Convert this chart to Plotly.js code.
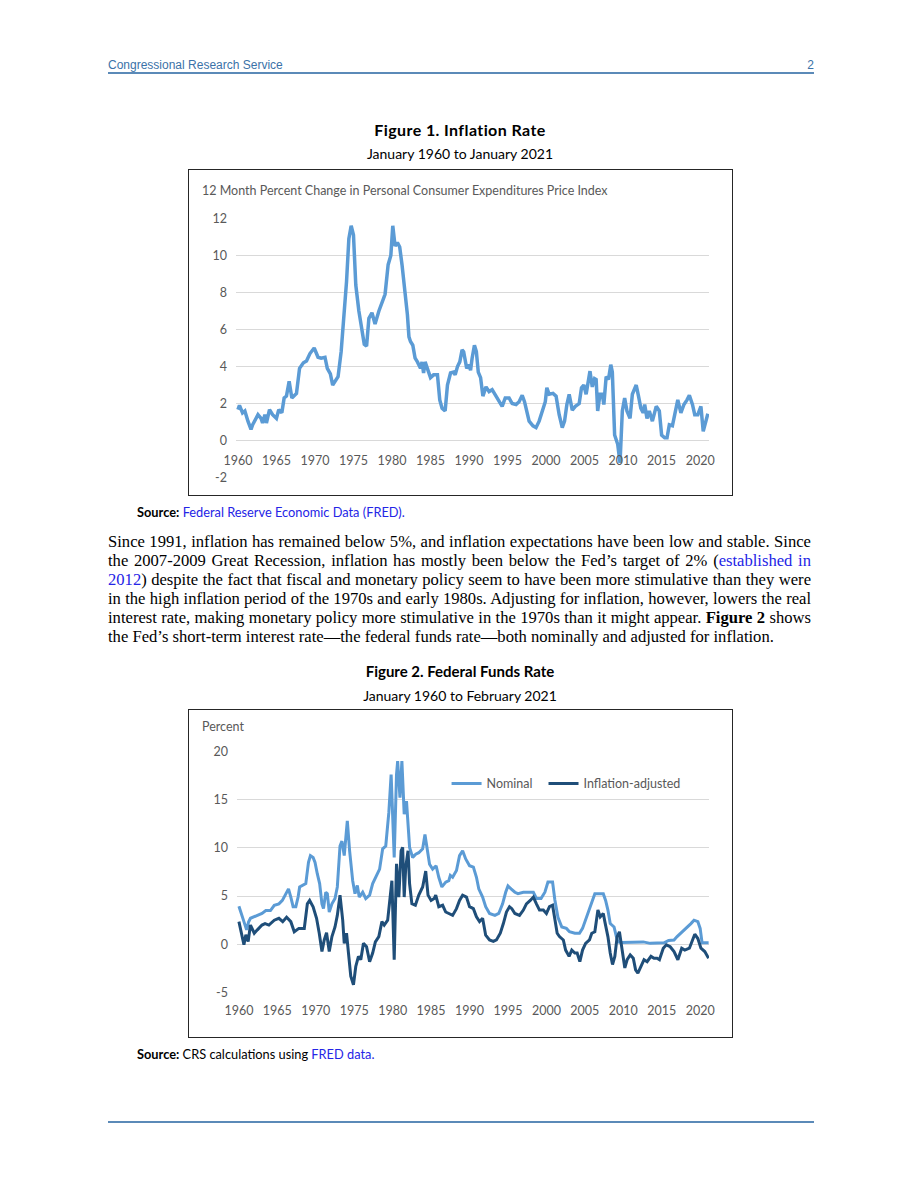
<!DOCTYPE html>
<html>
<head>
<meta charset="utf-8">
<script src="https://cdn.plot.ly/plotly-3.0.1.min.js"></script>
<style>
  html, body { margin:0; padding:0; background:#fff; }
  body { width:920px; height:1191px; position:relative; overflow:hidden; }
  .abs { position:absolute; }
  .hdr { font-family:"Liberation Sans", Arial, sans-serif; font-size:12px; color:#3b72a8; line-height:16px; }
  .rule { background:#5b8ab8; height:2px; left:108px; width:706px; }
  .ftitle { left:0; width:920px; text-align:center; font-family:Lato, sans-serif; font-weight:bold; font-size:15px; line-height:18px; color:#000; }
  .fsub { left:0; width:920px; text-align:center; font-family:Lato, sans-serif; font-size:14px; line-height:16px; color:#000; }
  .box { border:1px solid #262626; box-sizing:border-box; background:#fff; }
  .src { left:137px; font-family:Lato, sans-serif; font-size:12.8px; line-height:15px; color:#000; }
  .src b { font-weight:bold; }
  .lnk { color:#2424e6; }
  .para { left:108px; width:703px; font-family:"Liberation Serif", "Times New Roman", serif; font-size:16.6px; line-height:19px; color:#000; }
  .para div { white-space:nowrap; text-align:justify; text-align-last:justify; }
  .para div.last { text-align-last:left; }
</style>
</head>
<body>
<div class="abs hdr" style="left:108px; top:57px;">Congressional Research Service</div>
<div class="abs hdr" style="right:106px; top:57px;">2</div>
<div class="abs rule" style="top:72px;"></div>

<div class="abs ftitle" style="top:121px; font-size:16px; letter-spacing:0.4px;">Figure 1. Inflation Rate</div>
<div class="abs fsub" style="top:146px;">January 1960 to January 2021</div>
<div class="abs box" style="left:188px; top:169px; width:545px; height:327px;"><div id="chart1"></div></div>
<div class="abs src" style="top:505px;"><b>Source:</b> <span class="lnk">Federal Reserve Economic Data (FRED).</span></div>

<div class="abs para" style="top:532px;">
  <div>Since 1991, inflation has remained below 5%, and inflation expectations have been low and stable. Since</div>
  <div>the 2007-2009 Great Recession, inflation has mostly been below the Fed’s target of 2% (<span class="lnk">established in</span></div>
  <div><span class="lnk">2012</span>) despite the fact that fiscal and monetary policy seem to have been more stimulative than they were</div>
  <div>in the high inflation period of the 1970s and early 1980s. Adjusting for inflation, however, lowers the real</div>
  <div>interest rate, making monetary policy more stimulative in the 1970s than it might appear. <b>Figure 2</b> shows</div>
  <div class="last">the Fed’s short-term interest rate—the federal funds rate—both nominally and adjusted for inflation.</div>
</div>

<div class="abs ftitle" style="top:662px;">Figure 2. Federal Funds Rate</div>
<div class="abs fsub" style="top:688px;">January 1960 to February 2021</div>
<div class="abs box" style="left:188px; top:709px; width:545px; height:329px;"><div id="chart2"></div></div>
<div class="abs src" style="top:1047px;"><b>Source:</b> CRS calculations using <span class="lnk">FRED data.</span></div>

<div class="abs rule" style="top:1121px; height:1.5px;"></div>

<script>
// ---------- Figure 1: PCE price index, 12-month % change ----------
const pceYears = [1960.0,1960.2,1960.6,1960.9,1961.3,1961.7,1961.9,1962.2,1962.6,1963.0,1963.2,1963.5,1963.7,1964.1,1964.5,1965.0,1965.3,1965.7,1966.0,1966.3,1966.65,1967.0,1967.6,1968.0,1968.5,1968.9,1969.35,1969.9,1970.4,1970.8,1971.3,1971.6,1972.0,1972.3,1972.7,1973.0,1973.4,1973.7,1974.1,1974.4,1974.7,1975.0,1975.3,1975.7,1976.1,1976.4,1976.7,1977.0,1977.4,1977.8,1978.3,1978.7,1979.1,1979.5,1979.85,1980.1,1980.4,1980.7,1981.0,1981.3,1981.7,1982.0,1982.2,1982.4,1982.7,1983.0,1983.3,1983.7,1983.9,1984.1,1984.3,1984.7,1985.0,1985.4,1985.9,1986.2,1986.5,1986.9,1987.2,1987.6,1988.0,1988.2,1988.5,1988.8,1989.1,1989.3,1989.7,1990.0,1990.2,1990.4,1990.7,1990.95,1991.2,1991.5,1991.8,1992.2,1992.6,1993.0,1993.5,1993.9,1994.3,1994.7,1995.2,1995.6,1996.1,1996.5,1996.9,1997.2,1997.6,1997.8,1998.3,1998.7,1999.1,1999.6,1999.9,2000.1,2000.4,2000.9,2001.3,2001.7,2002.1,2002.4,2002.7,2003.0,2003.4,2003.8,2004.3,2004.6,2004.9,2005.2,2005.4,2005.7,2006.0,2006.3,2006.5,2006.7,2007.0,2007.3,2007.5,2007.8,2008.1,2008.4,2008.6,2008.9,2009.3,2009.6,2009.9,2010.2,2010.5,2010.9,2011.2,2011.7,2012.0,2012.3,2012.6,2012.8,2013.1,2013.4,2013.8,2014.3,2014.7,2015.0,2015.4,2015.7,2016.0,2016.4,2016.7,2017.1,2017.5,2017.9,2018.3,2018.6,2019.0,2019.3,2019.7,2020.1,2020.4,2020.8,2021.0];
const pceValues = [1.67,1.9,1.5,1.6,1.05,0.6,0.85,1.1,1.4,1.2,0.95,1.4,0.95,1.67,1.4,1.2,1.67,1.5,2.3,2.4,3.2,2.3,2.55,3.9,4.2,4.3,4.7,5.0,4.5,4.45,4.5,3.9,3.6,3.0,3.3,3.45,4.8,6.2,8.6,10.9,11.6,11.1,8.4,7.0,5.9,5.2,5.1,6.6,6.9,6.3,7.0,7.5,7.9,9.5,10.0,11.6,10.5,10.7,10.45,9.5,8.0,6.8,5.6,5.35,5.15,4.45,4.25,3.9,4.25,3.65,4.25,3.7,3.4,3.55,3.55,2.2,1.75,1.6,3.0,3.65,3.7,3.55,4.0,4.25,4.9,4.8,3.9,4.1,3.8,4.45,5.15,4.8,3.7,3.4,2.4,2.9,2.65,2.75,2.4,2.1,1.85,2.3,2.3,2.0,1.95,2.1,2.45,2.1,1.5,1.05,0.8,0.7,1.05,1.75,2.1,2.85,2.5,2.55,2.4,1.4,0.7,1.05,1.95,2.5,1.65,1.85,2.0,2.85,3.0,2.5,3.0,3.75,2.9,3.35,3.3,1.6,2.5,2.5,1.95,3.45,3.3,4.1,3.7,0.3,-0.2,-1.2,1.6,2.3,1.6,1.2,2.5,3.0,2.4,1.75,1.5,1.95,1.2,1.6,1.05,1.85,1.6,0.3,0.15,0.15,0.85,0.8,1.4,2.2,1.5,1.95,2.2,2.45,1.95,1.4,1.4,1.85,0.5,1.2,1.45];

// ---------- Figure 2: Federal funds rate ----------
const ffrNominalYears = [1960.0,1960.35,1960.65,1961.0,1961.25,1961.5,1962.0,1962.4,1963.0,1963.5,1964.1,1964.6,1965.2,1965.65,1966.1,1966.45,1966.75,1967.05,1967.4,1967.7,1967.9,1968.35,1968.7,1969.05,1969.3,1969.65,1969.9,1970.2,1970.5,1970.8,1971.0,1971.3,1971.5,1971.75,1972.1,1972.5,1972.8,1973.15,1973.4,1973.7,1974.1,1974.4,1974.8,1975.1,1975.4,1975.65,1976.1,1976.5,1977.0,1977.4,1977.8,1978.3,1978.7,1979.1,1979.5,1979.8,1980.2,1980.5,1980.65,1980.95,1981.2,1981.5,1981.8,1982.0,1982.2,1982.6,1983.0,1983.4,1983.9,1984.2,1984.6,1984.8,1985.2,1985.65,1986.0,1986.4,1986.9,1987.3,1987.5,1987.8,1988.3,1988.7,1989.1,1989.5,1990.0,1990.5,1990.9,1991.2,1991.7,1992.1,1992.6,1993.3,1993.8,1994.3,1994.7,1995.0,1995.4,1995.9,1996.3,1997.0,1997.6,1998.3,1998.7,1999.3,1999.8,2000.2,2000.8,2001.1,2001.5,2002.0,2002.6,2003.0,2003.7,2004.3,2004.7,2005.2,2005.7,2006.3,2007.0,2007.4,2007.7,2008.0,2008.3,2008.8,2009.1,2009.3,2009.8,2010.9,2012.0,2012.6,2013.5,2014.3,2015.3,2015.9,2016.6,2017.0,2017.5,2017.9,2018.3,2018.8,2019.2,2019.7,2020.0,2020.25,2021.1];
const ffrNominal = [3.95,3.2,2.35,1.5,2.3,2.7,2.85,3.0,3.2,3.5,3.5,4.05,4.2,4.55,5.25,5.75,4.9,3.9,3.9,4.9,5.95,6.1,6.3,8.5,9.2,9.0,8.5,7.3,6.3,4.2,3.7,5.4,5.25,3.35,4.2,4.75,5.95,10.2,10.7,9.2,12.8,9.7,6.6,5.25,6.1,4.9,5.4,4.75,5.1,6.3,6.95,7.8,9.9,10.2,13.65,17.6,9.0,17.6,19.0,15.2,19.0,13.5,14.85,12.1,10.05,9.0,9.35,9.5,9.9,11.4,9.35,8.3,7.8,8.15,6.95,5.95,6.45,6.6,7.15,6.95,7.65,9.2,9.7,8.85,8.15,8.0,6.95,5.75,4.9,3.9,3.2,3.0,3.2,4.2,5.4,6.05,5.75,5.4,5.25,5.4,5.4,5.4,4.75,4.75,5.4,6.45,6.45,4.6,2.8,1.8,1.65,1.3,1.15,1.15,1.65,2.85,4.05,5.25,5.25,5.25,4.55,3.55,2.15,1.8,0.8,0.25,0.2,0.2,0.2,0.25,0.1,0.1,0.15,0.4,0.45,0.8,1.15,1.5,1.8,2.15,2.5,2.35,1.65,0.15,0.15];
const ffrAdjustedYears = [1960.0,1960.2,1960.65,1960.9,1961.2,1961.5,1962.0,1962.4,1963.0,1963.4,1963.9,1964.6,1965.2,1965.7,1966.2,1966.75,1967.2,1967.8,1968.5,1968.9,1969.2,1969.65,1970.1,1970.45,1970.8,1971.1,1971.4,1971.75,1972.1,1972.5,1972.8,1973.15,1973.5,1973.7,1974.0,1974.25,1974.55,1974.9,1975.2,1975.55,1975.85,1976.2,1976.6,1977.0,1977.4,1977.75,1978.2,1978.6,1978.9,1979.35,1979.55,1979.9,1980.2,1980.5,1980.8,1981.1,1981.3,1981.5,1981.7,1982.0,1982.2,1982.5,1982.95,1983.4,1983.9,1984.3,1984.6,1985.0,1985.4,1985.6,1986.0,1986.5,1986.9,1987.4,1987.8,1988.3,1988.7,1989.1,1989.6,1990.0,1990.5,1990.9,1991.3,1991.7,1992.1,1992.6,1993.1,1993.5,1994.0,1994.4,1994.8,1995.2,1995.5,1995.9,1996.5,1997.0,1997.4,1997.9,1998.3,1998.7,1999.1,1999.6,2000.0,2000.4,2000.8,2001.1,2001.4,2001.7,2002.2,2002.5,2002.95,2003.3,2003.7,2004.0,2004.35,2004.7,2005.1,2005.6,2005.9,2006.3,2006.7,2007.0,2007.4,2007.6,2008.0,2008.3,2008.6,2008.9,2009.2,2009.5,2009.9,2010.2,2010.5,2010.9,2011.3,2011.6,2011.9,2012.3,2012.7,2013.1,2013.6,2014.0,2014.4,2014.7,2015.2,2015.6,2016.1,2016.6,2017.1,2017.6,2018.0,2018.6,2018.9,2019.3,2019.7,2020.1,2020.6,2021.0,2021.1];
const ffrAdjusted = [2.35,1.65,-0.05,1.0,0.3,2.0,1.15,1.5,2.0,2.15,2.0,2.5,2.7,2.35,2.8,2.35,1.3,1.65,1.65,4.2,4.55,3.9,2.7,1.15,-0.75,0.45,1.2,-0.75,0.8,1.8,3.0,5.1,2.5,0.1,1.15,-0.9,-3.3,-4.2,-2.3,-1.25,-1.6,0.1,-0.25,-1.8,-0.9,0.25,0.8,2.35,2.0,2.5,3.9,6.6,-1.6,8.35,4.9,9.7,10.05,4.9,8.0,9.7,6.3,4.2,4.05,5.1,5.95,7.6,5.1,4.55,4.75,5.1,3.9,4.05,3.35,3.2,3.0,3.7,4.55,5.1,4.9,3.9,3.7,2.85,2.35,2.7,0.95,0.45,0.3,0.45,1.15,2.15,3.35,3.9,3.7,3.2,3.0,3.55,4.2,4.55,4.9,4.2,3.55,3.55,3.2,3.9,4.05,2.6,1.15,0.8,0.45,-0.6,-1.25,-0.6,-0.9,-0.9,-1.8,-0.6,0.1,0.45,1.15,1.3,3.55,2.85,3.2,2.35,0.8,-0.9,-2.1,-1.25,0.8,1.3,-0.9,-2.45,-1.6,-1.1,-1.45,-2.65,-3.0,-2.3,-1.6,-1.8,-1.25,-1.45,-1.45,-1.6,-0.4,-0.05,-0.25,-0.75,-1.6,-0.4,-0.6,-0.4,0.3,1.05,0.6,-0.4,-0.75,-1.25,-1.45];

const yearTicks = [1960,1965,1970,1975,1980,1985,1990,1995,2000,2005,2010,2015,2020];
const yearTickText = yearTicks.map(String);
const pceTicks = [-2,0,2,4,6,8,10,12];
const ffrTicks = [-5,0,5,10,15,20];
const chart1Title = "12 Month Percent Change in Personal Consumer Expenditures Price Index";
const chart2YLabel = "Percent";
const seriesNames = ["Nominal", "Inflation-adjusted"];

const LIGHT = "#5b9bd5", DARK = "#1f4e79", GRID = "#d9d9d9", TXT = "#595959";
const tickFont = {family:"Lato, sans-serif", size:12.5, color:TXT};
const legendBase = {orientation:"h", y:0.864, xanchor:"left", yanchor:"middle",
                    font:{family:"Lato, sans-serif", size:12.5, color:TXT}, itemwidth:30,
                    bgcolor:"rgba(0,0,0,0)"};

Plotly.newPlot("chart1", [{
  x: pceYears, y: pceValues, type:"scatter", mode:"lines",
  line:{color:LIGHT, width:3.5}, showlegend:false, hoverinfo:"skip"
}], {
  width:543, height:325,
  margin:{l:47, r:23, t:48, b:17},
  paper_bgcolor:"#fff", plot_bgcolor:"#fff",
  xaxis:{range:[1959.75, 2021.15], tickvals:yearTicks, ticktext:yearTickText,
         showgrid:false, zeroline:false, showline:false, ticks:"",
         anchor:"free", position:2/14.04, tickfont:tickFont, ticklabelstandoff:11},
  yaxis:{range:[-2.02, 12.02], tickvals:pceTicks, ticktext:pceTicks.map(String), gridcolor:GRID, gridwidth:1,
         zeroline:false, showline:false, ticks:"", tickfont:tickFont, ticklabelstandoff:8},
  annotations:[{text:chart1Title, xref:"paper", yref:"paper", x:-0.0761, y:1.104,
                xanchor:"left", yanchor:"middle", showarrow:false,
                font:{family:"Lato, sans-serif", size:12.5, color:TXT}}]
}, {staticPlot:true, displayModeBar:false});

Plotly.newPlot("chart2", [
  {x: ffrNominalYears, y: ffrNominal, type:"scatter", mode:"lines", name:seriesNames[0],
   line:{color:LIGHT, width:3}, hoverinfo:"skip", legend:"legend"},
  {x: ffrAdjustedYears, y: ffrAdjusted, type:"scatter", mode:"lines", name:seriesNames[1],
   line:{color:DARK, width:3}, hoverinfo:"skip", legend:"legend2"}
], {
  width:543, height:327,
  margin:{l:48, r:23, t:41, b:44},
  paper_bgcolor:"#fff", plot_bgcolor:"#fff",
  showlegend:true,
  legend: Object.assign({}, legendBase, {x:0.444}),
  legend2: Object.assign({}, legendBase, {x:0.6494}),
  xaxis:{range:[1959.75, 2021.15], tickvals:yearTicks, ticktext:yearTickText,
         showgrid:false, zeroline:false, showline:false, ticks:"",
         tickfont:tickFont, ticklabelstandoff:8},
  yaxis:{range:[-5.05, 20.05], tickvals:ffrTicks, ticktext:ffrTicks.map(String), gridcolor:GRID, gridwidth:1,
         zeroline:false, showline:false, ticks:"", tickfont:tickFont, ticklabelstandoff:8},
  annotations:[{text:chart2YLabel, xref:"paper", yref:"paper", x:-0.078, y:1.103,
                xanchor:"left", yanchor:"middle", showarrow:false,
                font:{family:"Lato, sans-serif", size:12.5, color:TXT}}]
}, {staticPlot:true, displayModeBar:false});
</script>
</body>
</html>
